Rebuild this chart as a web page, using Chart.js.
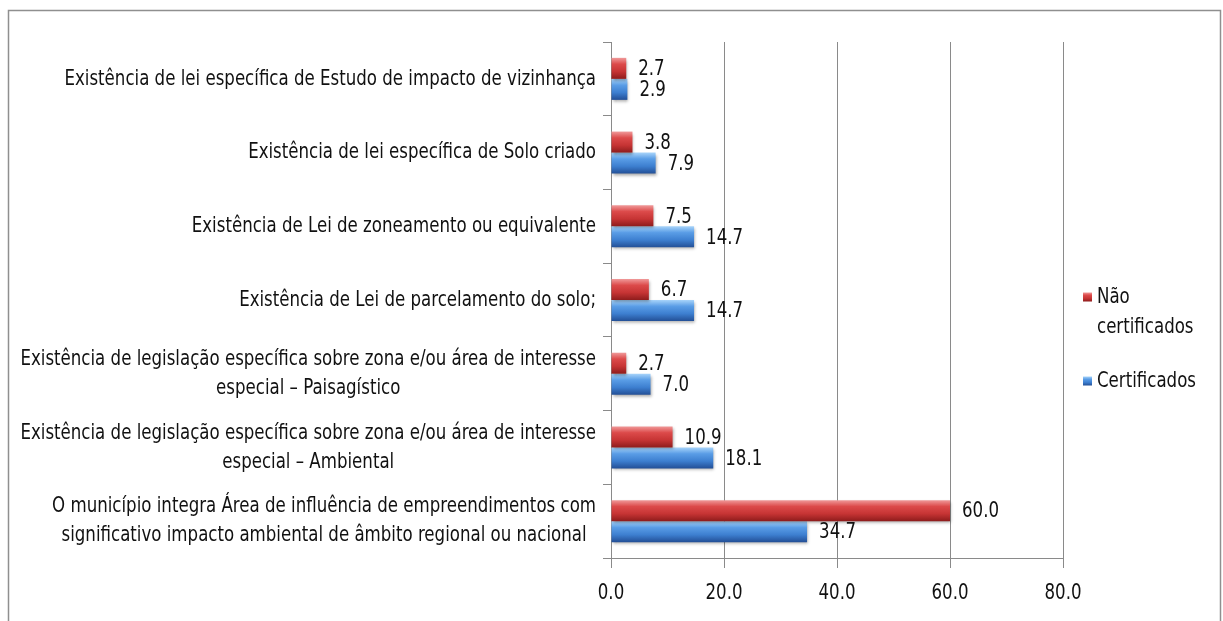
<!DOCTYPE html>
<html><head><meta charset="utf-8">
<script src="https://cdn.jsdelivr.net/npm/chart.js@4.4.1/dist/chart.umd.min.js"></script>
<style>html,body{margin:0;padding:0;background:#fff;overflow:hidden}</style>
</head><body>
<canvas id="c" width="1223" height="621"></canvas>
<script>
// ---- data ----
const categories = [
  ['Existência de lei específica de Estudo de impacto de vizinhança'],
  ['Existência de lei específica de Solo criado'],
  ['Existência de Lei de zoneamento ou equivalente'],
  ['Existência de Lei de parcelamento do solo;'],
  ['Existência de legislação específica sobre zona e/ou área de interesse', 'especial – Paisagístico'],
  ['Existência de legislação específica sobre zona e/ou área de interesse', 'especial – Ambiental'],
  ['O município integra Área de influência de empreendimentos com', 'significativo impacto ambiental de âmbito regional ou nacional']
];
const naoCertificados = [2.7, 3.8, 7.5, 6.7, 2.7, 10.9, 60.0];
const certificados    = [2.9, 7.9, 14.7, 14.7, 7.0, 18.1, 34.7];
const seriesNames = ['Não certificados', 'Certificados'];
const xMin = 0, xMax = 80, xStep = 20;

// ---- styles ----
const FONT = "'Liberation Sans Narrow', 'DejaVu Sans Condensed', sans-serif";
const FSIZE = 22;
const SX = 0.84;          // horizontal condensing of text
const CAT_PCT = 0.57;
const TEXT_COLOR = '#111';
const palettes = [
  ['#f09a9a', '#dc4a4a', '#c63434', '#8e1c1c'],
  ['#a8d4fa', '#5a9de6', '#3d7fd0', '#234f96']
];

function gradFor(chart, top, h, pal) {
  const g = chart.ctx.createLinearGradient(0, top, 0, top + h);
  g.addColorStop(0, pal[0]);
  g.addColorStop(0.3, pal[1]);
  g.addColorStop(0.65, pal[2]);
  g.addColorStop(1, pal[3]);
  return g;
}
function barBg(dsIndex) {
  return function (ctx) {
    const chart = ctx.chart, y = chart.scales.y, pal = palettes[dsIndex];
    if (!y || y.top === undefined || ctx.type !== 'data') return pal[2];
    const center = y.getPixelForValue(ctx.dataIndex);
    const band = (y.bottom - y.top) / categories.length;
    const h = band * CAT_PCT / 2;
    const top = dsIndex === 0 ? center - h : center;
    return gradFor(chart, top, h, pal);
  };
}

function txt(c, s, x, y, align) {
  c.save();
  c.translate(x, y);
  c.scale(SX, 1);
  c.textAlign = align;
  c.textBaseline = 'middle';
  c.fillText(s, 0, 0);
  c.restore();
}
function tw(c, s) { return c.measureText(s).width * SX; }

const framePlugin = {
  id: 'frame',
  beforeDraw(chart) {
    const c = chart.ctx;
    c.save();
    c.fillStyle = '#fff';
    c.fillRect(0, 0, chart.width, chart.height);
    c.strokeStyle = '#8f8f8f';
    c.lineWidth = 1.5;
    c.strokeRect(8.5, 10.5, 1212, 640);
    c.restore();
  }
};

const shadowPlugin = {
  id: 'shadow',
  beforeDatasetsDraw(chart) {
    const c = chart.ctx;
    c.save();
    c.shadowColor = 'rgba(0,0,0,0.35)';
    c.shadowBlur = 3;
    c.shadowOffsetX = 1;
    c.shadowOffsetY = 2;
  },
  afterDatasetsDraw(chart) { chart.ctx.restore(); }
};

const labelsPlugin = {
  id: 'labels',
  afterDraw(chart) {
    const c = chart.ctx;
    c.save();
    c.font = FSIZE + 'px ' + FONT;
    c.fillStyle = TEXT_COLOR;
    // value labels
    chart.data.datasets.forEach((ds, di) => {
      const meta = chart.getDatasetMeta(di);
      meta.data.forEach((el, i) => {
        txt(c, ds.data[i].toFixed(1), el.x + 12, el.y + 1, 'left');
      });
    });
    // x tick labels
    const xs = chart.scales.x;
    xs.ticks.forEach(t => {
      txt(c, Number(t.value).toFixed(1), xs.getPixelForValue(t.value), 593, 'center');
    });
    // category labels (right-aligned block, lines centered)
    const y = chart.scales.y;
    const right = y.right - 15;
    const lh = 29;
    chart.data.labels.forEach((lines, i) => {
      const cy = y.getPixelForTick(i);
      const w = Math.max(...lines.map(l => tw(c, l)));
      const cx = right - w / 2;
      lines.forEach((l, k) => {
        txt(c, l, cx, cy + (k - (lines.length - 1) / 2) * lh, 'center');
      });
    });
    // legend
    const lx = 1083, tx = 1097;
    const legendY = [297, 381];
    chart.data.datasets.forEach((ds, di) => {
      const my = legendY[di];
      c.fillStyle = gradFor(chart, my - 4.5, 9, palettes[di]);
      c.fillRect(lx, my - 4.5, 9, 9);
      c.fillStyle = TEXT_COLOR;
      const words = ds.label.split(' ');
      const out = [];
      let cur = '';
      words.forEach(wd => {
        const t = cur ? cur + ' ' + wd : wd;
        if (tw(c, t) > 110 && cur) { out.push(cur); cur = wd; } else cur = t;
      });
      out.push(cur);
      out.forEach((l, k) => txt(c, l, tx, my + k * 30, 'left'));
    });
    c.restore();
  }
};

new Chart(document.getElementById('c'), {
  type: 'bar',
  data: {
    labels: categories,
    datasets: [
      { label: seriesNames[0], data: naoCertificados, backgroundColor: barBg(0), borderWidth: 0 },
      { label: seriesNames[1], data: certificados, backgroundColor: barBg(1), borderWidth: 0 }
    ]
  },
  options: {
    indexAxis: 'y',
    responsive: false,
    animation: false,
    devicePixelRatio: 1,
    layout: { padding: { left: 0, right: 160, top: 42, bottom: 0 } },
    datasets: { bar: { categoryPercentage: CAT_PCT, barPercentage: 1 } },
    plugins: { legend: { display: false }, tooltip: { enabled: false } },
    scales: {
      x: {
        min: xMin, max: xMax,
        ticks: {
          stepSize: xStep,
          color: 'rgba(0,0,0,0)',
          font: { family: FONT, size: FSIZE },
          padding: 10,
          callback: v => Number(v).toFixed(1)
        },
        grid: {
          color: ctx => ctx.tick && ctx.tick.value === 0 ? 'rgba(0,0,0,0)' : '#8a8a8a',
          tickColor: '#8a8a8a',
          tickLength: 10,
          lineWidth: 1
        },
        border: { color: '#8a8a8a', width: 1 },
        afterFit: s => { s.height = 63; }
      },
      y: {
        ticks: { color: 'rgba(0,0,0,0)', font: { family: FONT, size: FSIZE } },
        grid: { drawOnChartArea: false, offset: true, tickLength: 8, color: '#8a8a8a' },
        border: { color: '#8a8a8a', width: 1 },
        afterFit: s => { s.width = 611; }
      }
    }
  },
  plugins: [framePlugin, shadowPlugin, labelsPlugin]
});
</script>
</body></html>
